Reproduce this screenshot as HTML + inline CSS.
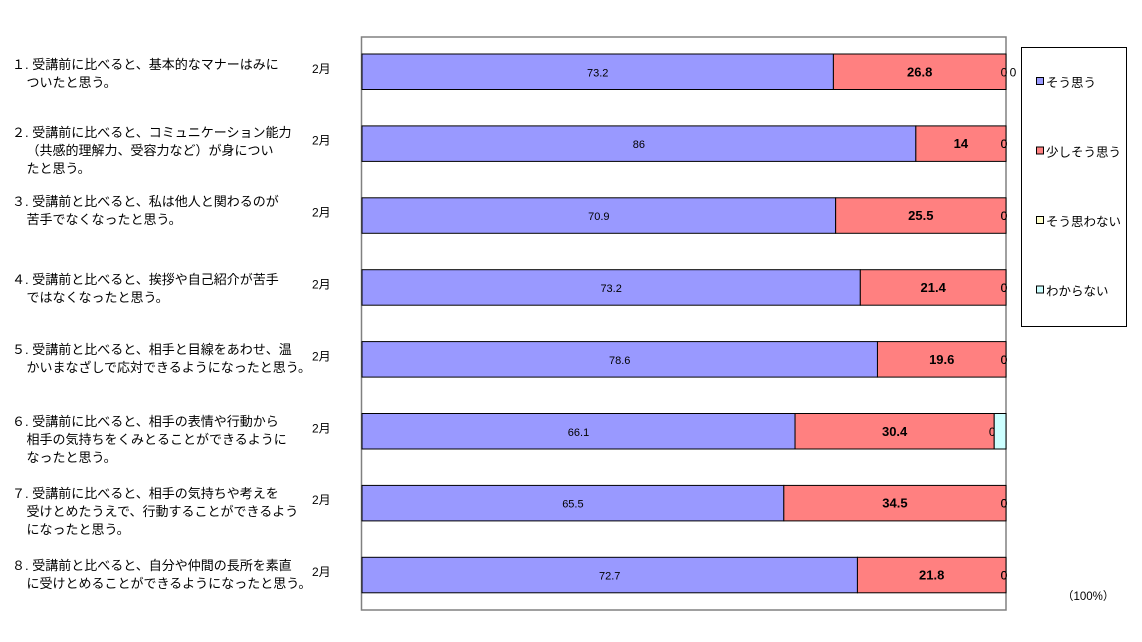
<!DOCTYPE html>
<html><head><meta charset="utf-8"><style>
body{margin:0;background:#fff;width:1142px;height:642px;overflow:hidden;font-family:"Liberation Sans","Noto Sans CJK JP",sans-serif;}
.q{position:absolute;left:12px;font-size:13px;line-height:18px;color:#000;white-space:pre;}
</style></head><body>
<svg id="chart" width="1142" height="642" style="position:absolute;left:0;top:0"></svg>
<div class="q" style="top:56px">１. 受講前に比べると、基本的なマナーはみに
    ついたと思う。</div>
<div class="q" style="top:124px">２. 受講前に比べると、コミュニケーション能力
    （共感的理解力、受容力など）が身につい
    たと思う。</div>
<div class="q" style="top:193px">３. 受講前と比べると、私は他人と関わるのが
    苦手でなくなったと思う。</div>
<div class="q" style="top:271px">４. 受講前と比べると、挨拶や自己紹介が苦手
    ではなくなったと思う。</div>
<div class="q" style="top:341px">５. 受講前と比べると、相手と目線をあわせ、温
    かいまなざしで応対できるようになったと思う。</div>
<div class="q" style="top:413px">６. 受講前に比べると、相手の表情や行動から
    相手の気持ちをくみとることができるように
    なったと思う。</div>
<div class="q" style="top:485px">７. 受講前に比べると、相手の気持ちや考えを
    受けとめたうえで、行動することができるよう
    になったと思う。</div>
<div class="q" style="top:557px">８. 受講前と比べると、自分や仲間の長所を素直
    に受けとめることができるようになったと思う。</div>
<script>
const categories=["Q1","Q2","Q3","Q4","Q5","Q6","Q7","Q8"];
const souOmou=[73.2,86,70.9,73.2,78.6,66.1,65.5,72.7];
const sukoshi=[26.8,14,25.5,21.4,19.6,30.4,34.5,21.8];
const omowanai=[0,0,0,0,0,0,0,0];
const wakaranai=[0,0,0,0,0,1.8,0,0];
const seriesNames=["そう思う","少しそう思う","そう思わない","わからない"];
const colors=["#9999ff","#ff8080","#ffffcc","#ccffff"];
const svg=document.getElementById('chart');const NS="http://www.w3.org/2000/svg";
const X0=362,X1=1006,Y0=37,Y1=610;
const xs=p=>X0+(X1-X0)*p/100;
const rowY=i=>54+i*71.9;const BH=35.5;
function mk(t,a){const e=document.createElementNS(NS,t);for(const k in a)e.setAttribute(k,a[k]);svg.appendChild(e);return e;}
const frame=mk('rect',{x:X0-0.5,y:Y0,width:X1-X0+0.5,height:Y1-Y0,fill:'none',stroke:'#808080','stroke-width':1.5});


const series=[souOmou,sukoshi,omowanai,wakaranai];
categories.forEach((c,i)=>{
  const tot=series.reduce((s,a)=>s+a[i],0);let acc=0;
  series.forEach((arr,si)=>{
    const v=arr[i];const xa=xs(acc/tot*100);acc+=v;const xb=xs(acc/tot*100);
    if(v>0){const r=mk('rect',{x:xa,y:rowY(i),width:xb-xa,height:BH,fill:colors[si],stroke:'#000','stroke-width':1});
      
      }
    if(si==3&&v>0)return;
    let lx=(xa+xb)/2;if(v===0){lx=xb-2+(si==3&&i==0?9:0);}
    const zero=v===0;
    const t=mk('text',{x:lx,y:rowY(i)+BH/2+4.5,'text-anchor':'middle','font-size':si==1?13:(zero?12:11),'font-weight':si==1?'bold':'normal',fill:'#000','font-family':'Liberation Sans, sans-serif'});
    t.textContent=v;
    
    
  });
  const m=mk('text',{x:312,y:rowY(i)+BH/2+1,'font-size':12,fill:'#000','font-family':'Liberation Sans, Noto Sans CJK JP, sans-serif'});
  m.textContent="2月";
  
  
});
const lg=mk('rect',{x:1021.5,y:47.5,width:105,height:279,fill:'#fff',stroke:'#000','stroke-width':1});


seriesNames.forEach((n,k)=>{
  const y=83+k*69.5;
  const s=mk('rect',{x:1036.5,y:y-5.5,width:7,height:7,fill:colors[k],stroke:'#000','stroke-width':1});
  
  
  const t=mk('text',{x:1046,y:y+4,'font-size':12.5,fill:'#000','font-family':'Liberation Sans, Noto Sans CJK JP, sans-serif'});
  t.textContent=n;
  
  
});
const u=mk('text',{x:1062,y:600,'font-size':11.5,fill:'#000','font-family':'Liberation Sans, Noto Sans CJK JP, sans-serif'});
u.textContent="（100%）";


</script>
</body></html>
